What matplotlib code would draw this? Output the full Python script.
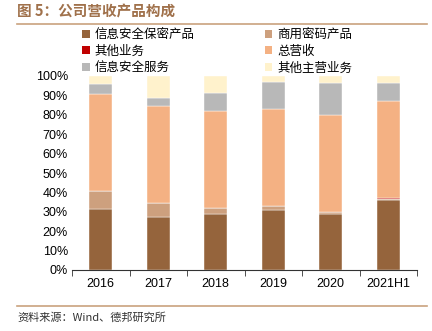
import numpy as np
import matplotlib
matplotlib.use("Agg")
import matplotlib.pyplot as plt
from matplotlib.patches import Patch
from matplotlib.lines import Line2D

plt.rcParams['font.family'] = ['Noto Sans CJK SC', 'DejaVu Sans']

# data (share of total, %)
years = ['2016', '2017', '2018', '2019', '2020', '2021H1']
series_names = ['信息安全保密产品', '商用密码产品', '其他业务', '总营收', '信息安全服务', '其他主营业务']
baomi = [31.5, 27.5, 29.0, 31.1, 29.0, 36.3]
shangmi = [9.0, 7.2, 3.0, 2.1, 0.7, 0.3]
qita = [0.0, 0.0, 0.0, 0.0, 0.0, 0.7]
zongyingshou = [50.0, 49.8, 49.8, 49.6, 50.0, 49.6]
fuwu = [5.5, 4.2, 9.6, 14.1, 16.5, 9.3]
qitazhuying = [4.0, 11.3, 8.6, 3.1, 3.8, 3.8]
colors = ['#95643C', '#CDA07E', '#C00000', '#F4B183', '#B8B8B8', '#FFF2CC']

fig = plt.figure(figsize=(4.32, 3.31), dpi=100)
ax = fig.add_axes([72/432, 61/331, 345/432, 194/331])

x = np.arange(len(years))
bottom = np.zeros(len(years))
handles = []
for name, vals, c in zip(series_names, [baomi, shangmi, qita, zongyingshou, fuwu, qitazhuying], colors):
    vals = np.array(vals)
    ax.bar(x, vals, bottom=bottom, width=0.4, color=c, edgecolor='white', linewidth=0.3)
    bottom += vals
    handles.append(Patch(facecolor=c, edgecolor='none'))

ax.set_xlim(-0.5, len(years) - 0.5)
ax.set_ylim(0, 100)
ax.set_yticks(np.arange(0, 101, 10))
ax.set_yticklabels([f'{v}%' for v in range(0, 101, 10)], family='Liberation Sans', fontsize=9)
ax.set_xticks(x)
ax.set_xticklabels(years, family='Liberation Sans', fontsize=9)
ax.set_xticks(np.arange(-0.5, len(years)), minor=True)
ax.tick_params(axis='x', which='major', length=0, pad=6)
ax.tick_params(axis='x', which='minor', length=4, direction='out', color='#333333')
ax.tick_params(axis='y', length=0, pad=3)
for s in ['top', 'right', 'left']:
    ax.spines[s].set_visible(False)
ax.spines['bottom'].set_color('#333333')
ax.spines['bottom'].set_linewidth(0.8)

# legend, column-major order
order = [0, 2, 4, 1, 3, 5]
fig.legend([handles[i] for i in order], [series_names[i] for i in order],
           loc='upper left', bbox_to_anchor=(82/432, 1 - 28/331), ncol=2,
           frameon=False, fontsize=9, handlelength=0.6, handleheight=0.6,
           handletextpad=0.4, columnspacing=5.6, labelspacing=0.3,
           borderpad=0, borderaxespad=0)

# title and frame lines
fig.text(17/432, 1 - 12/331, '图 5：公司营收产品构成', fontsize=10.5, fontweight='bold',
         color='#A0714B', va='center', ha='left')
fig.add_artist(Line2D([17/432, 427/432], [1 - 24/331, 1 - 24/331], color='#C9A27E', lw=1.2))
fig.add_artist(Line2D([17/432, 427/432], [1 - 306/331, 1 - 306/331], color='#C9A27E', lw=1.2))
fig.text(17/432, 1 - 318/331, '资料来源：Wind、德邦研究所', fontsize=8, color='#333333',
         va='center', ha='left')

fig.savefig('out.png', dpi=100)
